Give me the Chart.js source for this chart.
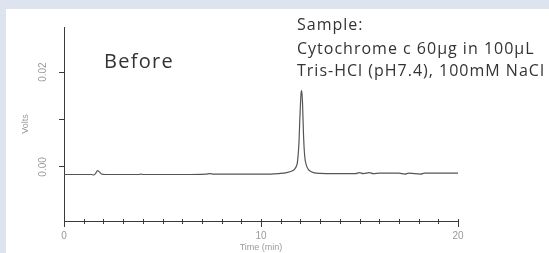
<!DOCTYPE html>
<html>
<head>
<meta charset="utf-8">
<script src="https://cdn.jsdelivr.net/npm/chart.js@4.4.1/dist/chart.umd.min.js"></script>
<style>
html, body { margin: 0; padding: 0; width: 549px; height: 253px; overflow: hidden; background: #dde4ef; }
#panel { position: absolute; left: 6px; top: 9px; width: 543px; height: 244px; background: #fff; }
</style>
</head>
<body>
<div id="panel"><canvas id="chromChart" width="543" height="244"></canvas></div>
<script>
// Chromatogram trace (time in min, signal in volts)
const timeMin = [0, 0.8, 1.4, 1.5, 1.6, 1.7, 1.8, 1.9, 2.1, 2.5, 3.5, 3.8, 3.9, 4.0, 4.5, 6, 7.2, 7.4, 7.6, 9, 10,
    10.5, 10.9, 11.3, 11.6, 11.7, 11.8, 11.85, 11.92, 11.98, 12.04, 12.07, 12.11, 12.16, 12.22, 12.3, 12.4,
    12.55, 12.8, 13.3, 14, 14.8, 15.0, 15.2, 15.5, 15.7, 16, 17, 17.3, 17.5, 18.1, 18.3, 19, 20];
const volts = [-0.0016, -0.0016, -0.0016, -0.0017, -0.0014, -0.0008, -0.0011, -0.0015, -0.0016, -0.0016,
    -0.0016, -0.0016, -0.0015, -0.0016, -0.0016, -0.0016, -0.0015, -0.0014, -0.0015, -0.0015, -0.0015,
    -0.0015, -0.0014, -0.0012, -0.0008, -0.0005, 0.0002, 0.0010, 0.0045, 0.0110, 0.0158, 0.0161, 0.0132,
    0.0065, 0.0022, 0.0004, -0.0005, -0.0010, -0.0013, -0.0014, -0.0014, -0.0014, -0.0012, -0.0014,
    -0.0012, -0.0014, -0.0013, -0.0013, -0.0015, -0.0013, -0.0015, -0.0013, -0.0013, -0.0013];

const xLabelValues = [0, 10, 20];
const yTickValues = [0, 0.01, 0.02];
const yTickLabels = ['0.00', '', '0.02'];
const panelTitle = 'Before';
const sampleLines = ['Sample:', 'Cytochrome c 60\u03bcg in 100\u03bcL', 'Tris-HCl (pH7.4), 100mM NaCl'];

const axisColor = '#3a3a3a';
const labelColor = '#9a9a9a';

// crossing tick marks on the time axis, rotated volt labels, text notes
const decorPlugin = {
    id: 'decor',
    afterDraw(chart) {
        const ctx = chart.ctx;
        const xs = chart.scales.x;
        const ys = chart.scales.y;
        ctx.save();
        ctx.strokeStyle = axisColor;
        ctx.lineWidth = 1;
        for (let t = xs.min; t <= xs.max; t++) {
            const px = Math.round(xs.getPixelForValue(t)) + 0.5;
            const major = t % 10 === 0;
            ctx.beginPath();
            ctx.moveTo(px, xs.top - 2);
            ctx.lineTo(px, xs.top + (major ? 6 : 3));
            ctx.stroke();
        }

        ctx.fillStyle = labelColor;
        ctx.font = '10px "Liberation Sans", sans-serif';
        ctx.textAlign = 'center';
        ctx.textBaseline = 'middle';
        yTickValues.forEach((v, i) => {
            if (!yTickLabels[i]) return;
            ctx.save();
            ctx.translate(ys.left + 29, ys.getPixelForValue(v));
            ctx.rotate(-Math.PI / 2);
            ctx.fillText(yTickLabels[i], 0, 0);
            ctx.restore();
        });

        ctx.fillStyle = '#333';
        ctx.textAlign = 'left';
        ctx.textBaseline = 'alphabetic';
        ctx.letterSpacing = '1.3px';
        ctx.font = '20px "Open Sans", sans-serif';
        ctx.fillText(panelTitle, 98, 59);
        ctx.letterSpacing = '1px';
        ctx.font = '16px "Open Sans", sans-serif';
        [21, 45, 67].forEach((y, i) => ctx.fillText(sampleLines[i], 291, y));
        ctx.restore();
    }
};

new Chart(document.getElementById('chromChart'), {
    type: 'line',
    data: {
        datasets: [{
            data: timeMin.map((t, i) => ({ x: t, y: volts[i] })),
            borderColor: '#555',
            borderWidth: 1.2,
            pointRadius: 0,
            cubicInterpolationMode: 'monotone',
            fill: false
        }]
    },
    options: {
        responsive: false,
        animation: false,
        layout: { padding: { left: 8, top: 18, right: 91, bottom: 0 } },
        plugins: { legend: { display: false }, tooltip: { enabled: false } },
        scales: {
            x: {
                type: 'linear',
                min: 0,
                max: 20,
                afterFit(scale) { scale.height = 32; },
                afterBuildTicks(scale) { scale.ticks = xLabelValues.map(v => ({ value: v })); },
                grid: { drawOnChartArea: false, drawTicks: true, tickLength: 6, color: 'rgba(0,0,0,0)' },
                border: { color: axisColor, width: 1 },
                ticks: {
                    color: labelColor,
                    padding: 3,
                    maxRotation: 0,
                    font: { family: 'Liberation Sans', size: 10 }
                },
                title: {
                    display: true,
                    text: 'Time (min)',
                    color: labelColor,
                    padding: { top: 0, bottom: 0 },
                    font: { family: 'Liberation Sans', size: 9 }
                }
            },
            y: {
                min: -0.0114,
                max: 0.0295,
                afterFit(scale) { scale.width = 50; },
                afterBuildTicks(scale) { scale.ticks = yTickValues.map(v => ({ value: v })); },
                grid: { drawOnChartArea: false, drawTicks: true, tickLength: 5, color: axisColor },
                border: { color: axisColor, width: 1 },
                ticks: { display: false },
                title: {
                    display: true,
                    text: 'Volts',
                    color: labelColor,
                    padding: { top: 6, bottom: 0 },
                    font: { family: 'Liberation Sans', size: 9 }
                }
            }
        }
    },
    plugins: [decorPlugin]
});
</script>
</body>
</html>
